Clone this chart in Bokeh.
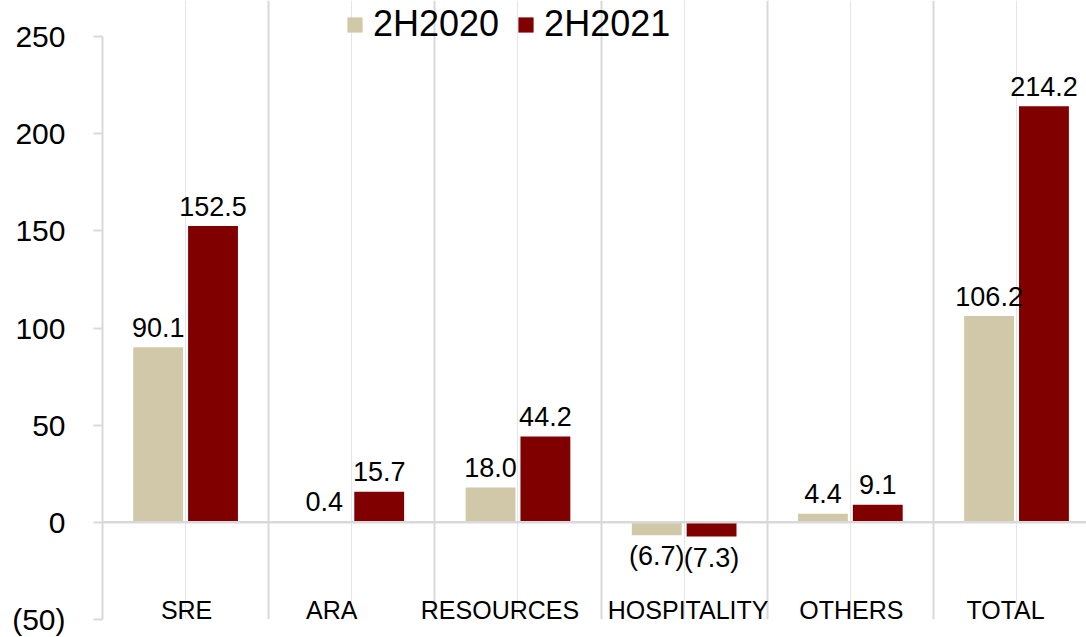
from bokeh.plotting import figure
from bokeh.models import ColumnDataSource, Range1d, FixedTicker, Span, Legend, LegendItem, Grid
from bokeh.transform import dodge
from bokeh.core.properties import value
from bokeh.embed import file_html
from bokeh.resources import INLINE

categories = ["SRE", "ARA", "RESOURCES", "HOSPITALITY", "OTHERS", "TOTAL"]
h2020 = [90.1, 0.4, 18.0, -6.7, 4.4, 106.2]
h2021 = [152.5, 15.7, 44.2, -7.3, 9.1, 214.2]
series_names = ["2H2020", "2H2021"]
y_ticks = [-50, 0, 50, 100, 150, 200, 250]

# styling: small horizontal nudges (px) of the category labels, as in the original
label_nudge = [1, -20, -18, 4, 1, -11]

C2020 = "#D0C8A8"
C2021 = "#800000"
GRID = "#D9D9D9"
FONT = "Liberation Sans"


def fmt(v):
    return f"({abs(v):.1f})" if v < 0 else f"{v:.1f}"


idx = list(range(len(categories)))
src = ColumnDataSource(dict(
    x=idx,
    cat=categories,
    a=h2020,
    b=h2021,
    la=[fmt(v) for v in h2020],
    lb=[fmt(v) for v in h2021],
    oa=[-20 if v >= 0 else 21 for v in h2020],
    ob=[-20 if v >= 0 else 21 for v in h2021],
    cy=[-45] * len(categories),
    nx=label_nudge,
))

p = figure(width=1086, height=637,
           x_range=Range1d(-0.5, 5.421), y_range=Range1d(-50, 268.6),
           output_backend="svg", toolbar_location=None,
           x_axis_location=None,
           min_border_left=102, min_border_right=0,
           min_border_top=0, min_border_bottom=18)
p.outline_line_color = None
p.ygrid.grid_line_color = None
p.background_fill_color = "white"
p.border_fill_color = "white"

# vertical separators between categories
p.add_layout(Grid(dimension=0, ticker=FixedTicker(ticks=[i + 0.5 for i in idx]),
                  bounds=(-50, 250), grid_line_color=GRID, grid_line_width=2))

# zero line
p.add_layout(Span(location=0, dimension="width", line_color=GRID, line_width=2.5))

bw = 0.30
off = 0.165
r1 = p.vbar(x=dodge("x", -off, range=p.x_range), top="a", bottom=0, width=bw,
            source=src, fill_color=C2020, line_color=None)
r2 = p.vbar(x=dodge("x", off, range=p.x_range), top="b", bottom=0, width=bw,
            source=src, fill_color=C2021, line_color=None)

p.text(x=dodge("x", -off, range=p.x_range), y="a", text="la", y_offset="oa",
       source=src, text_align="center", text_baseline="alphabetic",
       text_font=value(FONT), text_font_size="27px", text_color="black")
p.text(x=dodge("x", off, range=p.x_range), y="b", text="lb", y_offset="ob",
       source=src, text_align="center", text_baseline="alphabetic",
       text_font=value(FONT), text_font_size="27px", text_color="black")

# category labels
p.text(x="x", y="cy", text="cat", x_offset="nx", source=src, text_align="center",
       text_baseline="middle", text_font=value(FONT), text_font_size="25px",
       text_color="black")

# y axis
ax = p.yaxis[0]
ax.ticker = FixedTicker(ticks=y_ticks)
ax.bounds = (-50, 250)
ax.major_label_overrides = {t: (f"({abs(t)})" if t < 0 else str(t)) for t in y_ticks}
ax.axis_line_color = GRID
ax.axis_line_width = 2
ax.major_tick_line_color = GRID
ax.major_tick_line_width = 2
ax.major_tick_out = 9
ax.major_tick_in = 0
ax.minor_tick_line_color = None
ax.major_label_standoff = 28
ax.major_label_text_font = FONT
ax.major_label_text_font_size = "30px"
ax.major_label_text_color = "black"

legend = Legend(items=[LegendItem(label=series_names[0], renderers=[r1]),
                       LegendItem(label=series_names[1], renderers=[r2])],
                location=(243, 574), orientation="horizontal",
                glyph_width=19, glyph_height=19, label_standoff=9, spacing=17,
                padding=0, margin=0, border_line_color=None,
                background_fill_alpha=0,
                label_text_font=FONT, label_text_font_size="36px",
                label_text_color="black")
p.add_layout(legend)

open("out.html", "w").write(file_html(p, INLINE))
